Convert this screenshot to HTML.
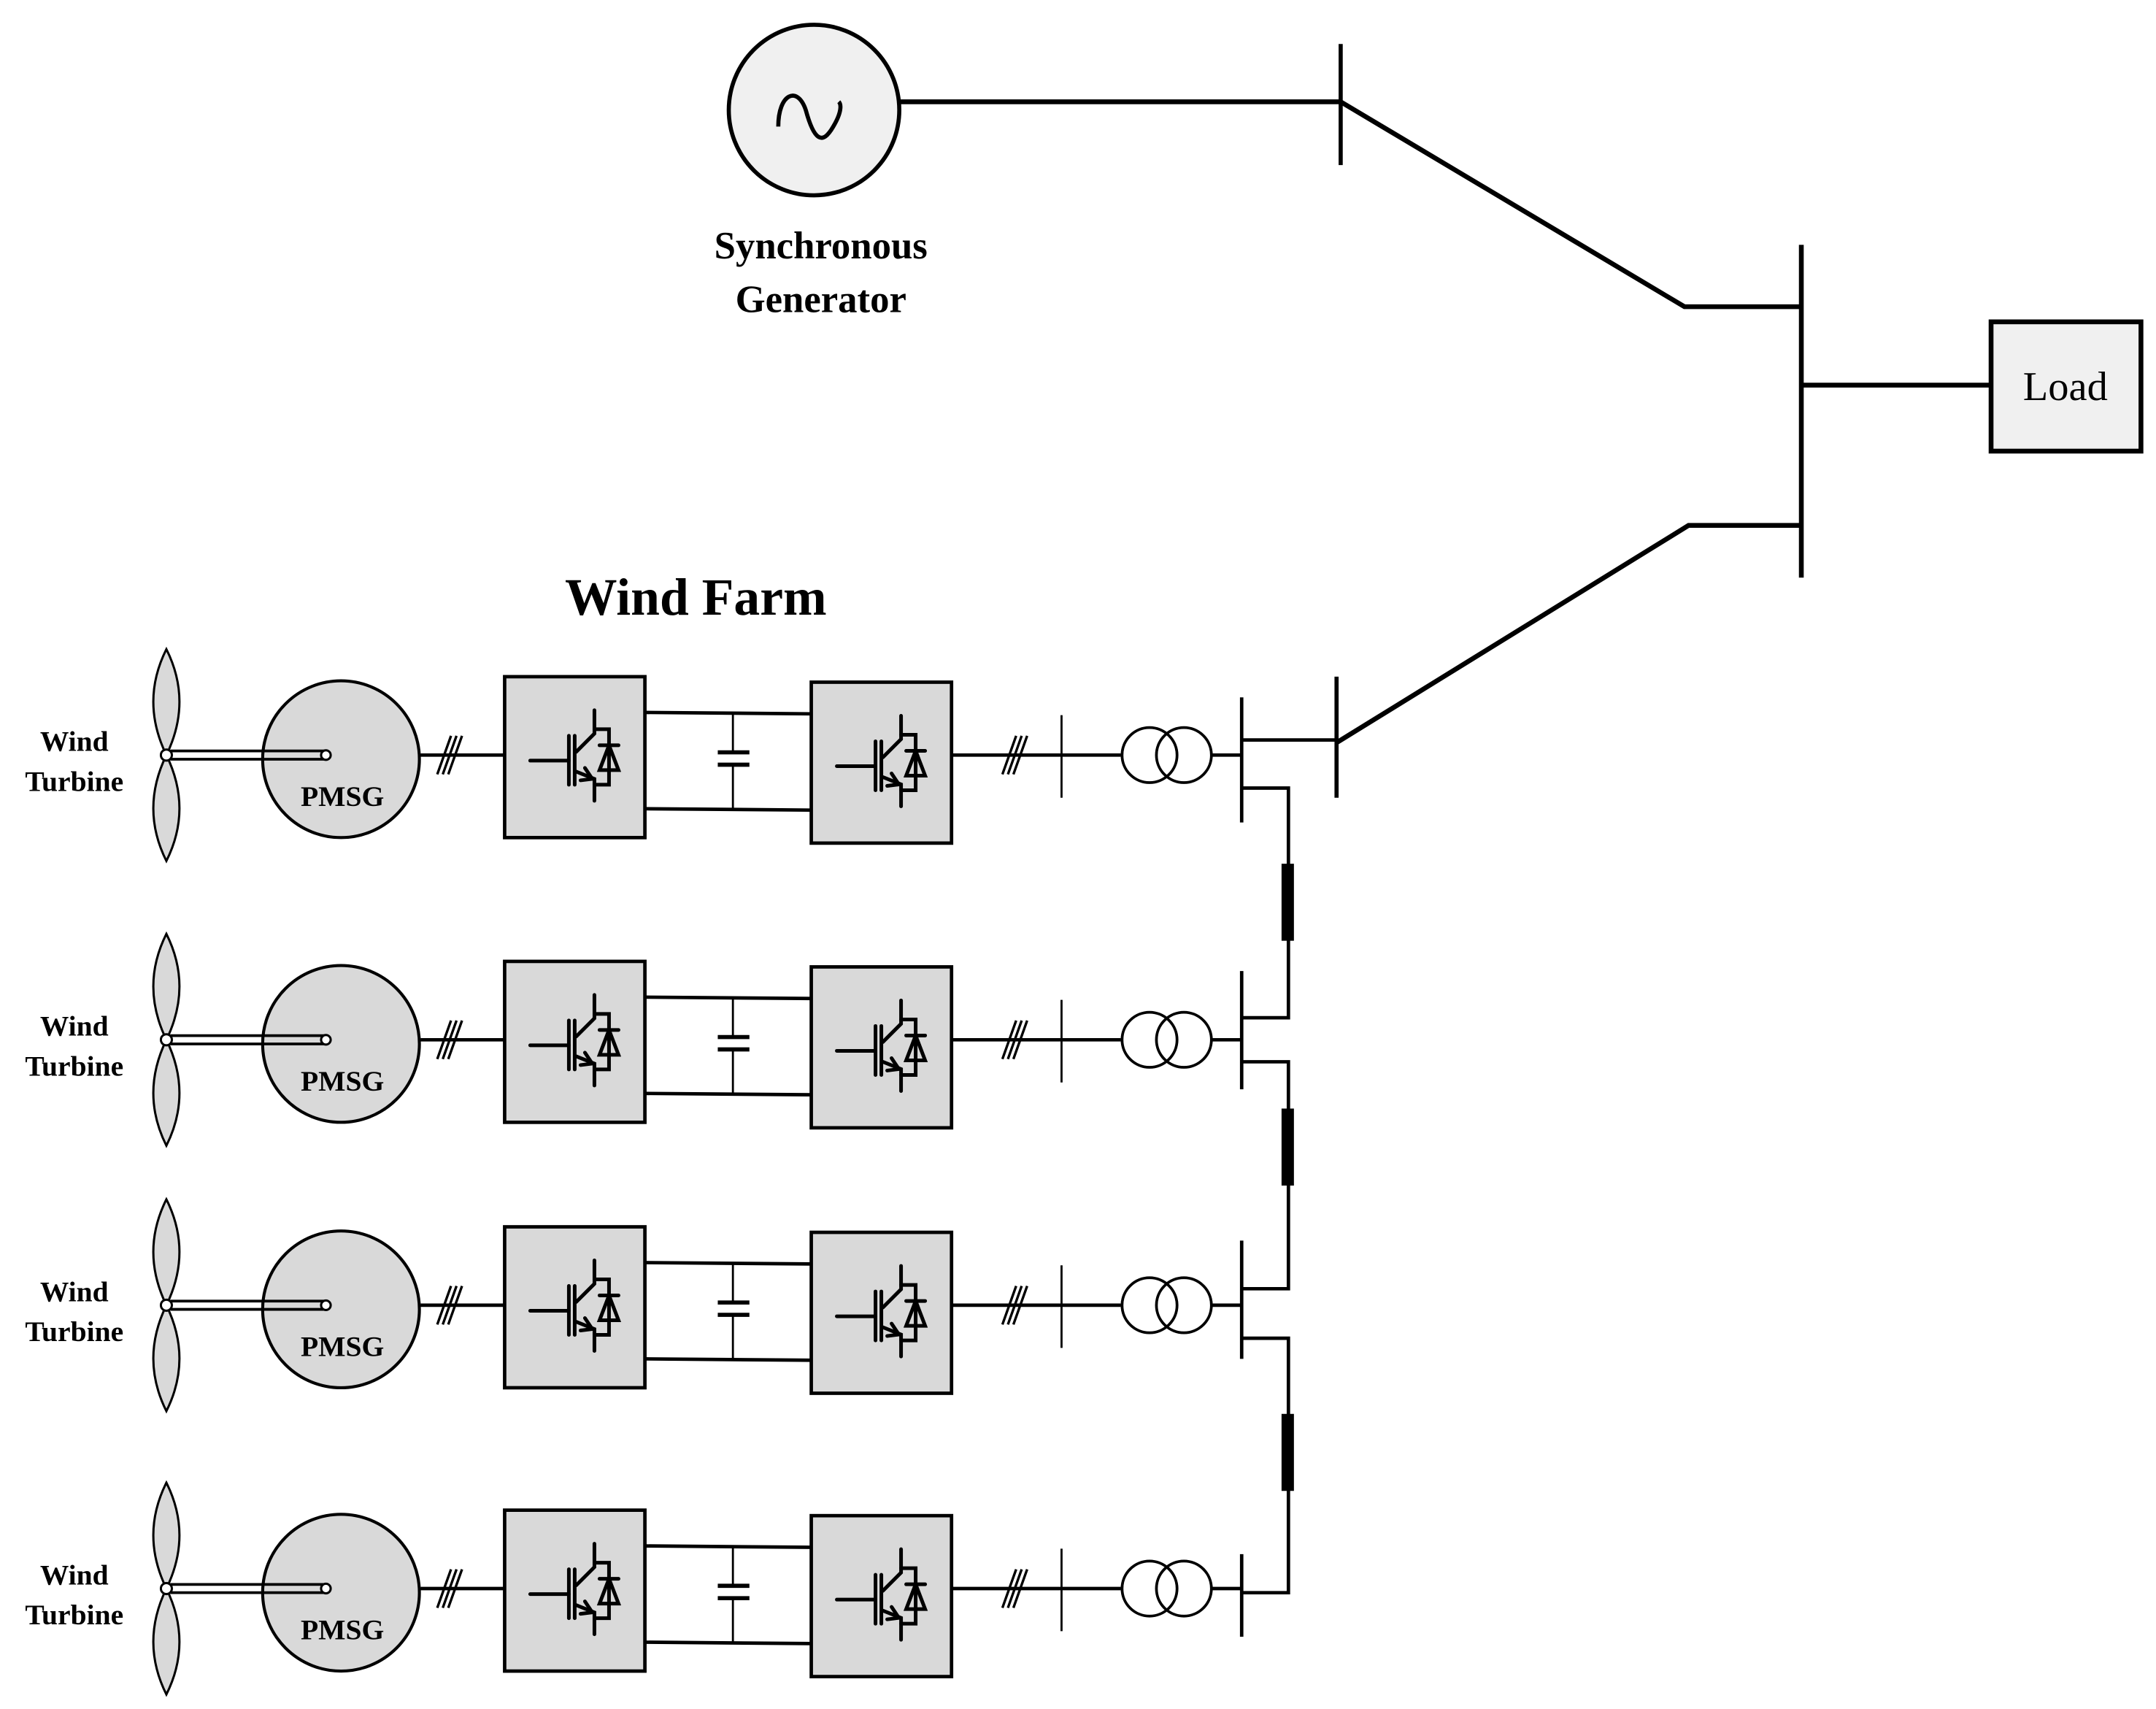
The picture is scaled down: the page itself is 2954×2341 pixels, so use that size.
<!DOCTYPE html>
<html><head><meta charset="utf-8"><style>
html,body{margin:0;padding:0;background:#fff;}
svg{display:block;}
text{font-family:"Liberation Serif",serif;}
</style></head><body>
<svg width="2954" height="2341" viewBox="0 0 2954 2341" xmlns="http://www.w3.org/2000/svg">
<defs>
<g id="igbt" stroke="#000" stroke-width="5" fill="none" stroke-linecap="round">
 <line x1="35" y1="115" x2="88" y2="115"/>
 <line x1="88" y1="81" x2="88" y2="148"/>
 <line x1="96" y1="81" x2="96" y2="148"/>
 <polyline points="98,103 123,78 123,46"/>
 <polyline points="98,130 123,140 123,170"/>
 <polyline points="110,125 120,140 104,142"/>
 <polyline points="123,72 143,72 143,148 123,148"/>
 <polygon points="130,128 156,128 143,94"/>
 <line x1="130" y1="94" x2="156" y2="94"/>
</g>
<g id="row">
 <path d="M121,472 Q140,510 121,549 Q102,510 121,472Z" fill="#d9d9d9" stroke="#000" stroke-width="1.6"/>
 <path d="M121,549 Q140,588 121,626 Q102,588 121,549Z" fill="#d9d9d9" stroke="#000" stroke-width="1.6"/>
 <circle cx="248" cy="552" r="57" fill="#d9d9d9" stroke="#000" stroke-width="2.2"/>
 <line x1="124" y1="546" x2="237" y2="546" stroke="#000" stroke-width="2"/>
 <line x1="124" y1="552" x2="237" y2="552" stroke="#000" stroke-width="2"/>
 <circle cx="121" cy="549" r="4" fill="#fff" stroke="#000" stroke-width="1.6"/>
 <circle cx="237" cy="549" r="3.5" fill="#fff" stroke="#000" stroke-width="1.6"/>
 <text x="249" y="586" font-size="21" font-weight="bold" text-anchor="middle">PMSG</text>
 <text x="54" y="546" font-size="21" font-weight="bold" text-anchor="middle">Wind</text>
 <text x="54" y="575" font-size="21" font-weight="bold" text-anchor="middle">Turbine</text>
 <line x1="306" y1="549" x2="367" y2="549" stroke="#000" stroke-width="2.5"/>
 <line x1="318" y1="563" x2="328" y2="535" stroke="#000" stroke-width="1.8"/>
 <line x1="322" y1="563" x2="332" y2="535" stroke="#000" stroke-width="1.8"/>
 <line x1="326" y1="563" x2="336" y2="535" stroke="#000" stroke-width="1.8"/>
 <rect x="367" y="492" width="102" height="117" fill="#d9d9d9" stroke="#000" stroke-width="2.5"/>
 <g transform="translate(367,492) scale(0.5308)"><use href="#igbt"/></g>
 <rect x="590" y="496" width="102" height="117" fill="#d9d9d9" stroke="#000" stroke-width="2.5"/>
 <g transform="translate(590,496) scale(0.5308)"><use href="#igbt"/></g>
 <line x1="469" y1="518" x2="590" y2="519" stroke="#000" stroke-width="2.5"/>
 <line x1="469" y1="588" x2="590" y2="589" stroke="#000" stroke-width="2.5"/>
 <line x1="533" y1="518" x2="533" y2="547" stroke="#000" stroke-width="1.5"/>
 <line x1="533" y1="556" x2="533" y2="588" stroke="#000" stroke-width="1.5"/>
 <line x1="522" y1="547" x2="545" y2="547" stroke="#000" stroke-width="3"/>
 <line x1="522" y1="556" x2="545" y2="556" stroke="#000" stroke-width="3"/>
 <line x1="692" y1="549" x2="815" y2="549" stroke="#000" stroke-width="2.5"/>
 <line x1="729" y1="563" x2="739" y2="535" stroke="#000" stroke-width="1.8"/>
 <line x1="733" y1="563" x2="743" y2="535" stroke="#000" stroke-width="1.8"/>
 <line x1="737" y1="563" x2="747" y2="535" stroke="#000" stroke-width="1.8"/>
 <line x1="772" y1="520" x2="772" y2="580" stroke="#000" stroke-width="1.5"/>
 <circle cx="836" cy="549" r="20" fill="none" stroke="#000" stroke-width="2"/>
 <circle cx="861" cy="549" r="20" fill="none" stroke="#000" stroke-width="2"/>
 <line x1="881" y1="549" x2="903" y2="549" stroke="#000" stroke-width="2.5"/>
</g>
</defs>
<g transform="scale(1.884)">
 <circle cx="592" cy="80" r="62" fill="#f0f0f0" stroke="#000" stroke-width="3"/>
 <path d="M566,92 C566,68 580,62 586,80 C592,102 598,106 606,92 C612,82 612,76 610,74" fill="none" stroke="#000" stroke-width="3"/>
 <text x="597" y="188" font-size="28" font-weight="bold" text-anchor="middle">Synchronous</text>
 <text x="597" y="227" font-size="28" font-weight="bold" text-anchor="middle">Generator</text>
 <line x1="655" y1="74" x2="975" y2="74" stroke="#000" stroke-width="3.5"/>
 <line x1="975" y1="32" x2="975" y2="120" stroke="#000" stroke-width="3"/>
 <polyline points="975,74 1225,223 1310,223" fill="none" stroke="#000" stroke-width="3.5"/>
 <line x1="1310" y1="178" x2="1310" y2="420" stroke="#000" stroke-width="3.5"/>
 <line x1="1310" y1="280" x2="1448" y2="280" stroke="#000" stroke-width="3.5"/>
 <rect x="1448" y="234" width="109" height="94" fill="#f0f0f0" stroke="#000" stroke-width="3.5"/>
 <text x="1502" y="291" font-size="30" text-anchor="middle">Load</text>
 <polyline points="1310,382 1228,382 972,540" fill="none" stroke="#000" stroke-width="3.5"/>
 <line x1="972" y1="492" x2="972" y2="580" stroke="#000" stroke-width="3"/>
 <text x="506" y="447" font-size="38" font-weight="bold" text-anchor="middle">Wind Farm</text>

 <use href="#row"/>
 <use href="#row" transform="translate(0,207)"/>
 <use href="#row" transform="translate(0,400)"/>
 <use href="#row" transform="translate(0,606)"/>

 <g stroke="#000" stroke-width="2.5" fill="none">
  <line x1="903" y1="507" x2="903" y2="598"/>
  <line x1="903" y1="538" x2="972" y2="538"/>
  <polyline points="903,573 937,573 937,740 903,740"/>
  <line x1="903" y1="706" x2="903" y2="792"/>
  <polyline points="903,772 937,772 937,937 903,937"/>
  <line x1="903" y1="902" x2="903" y2="988"/>
  <polyline points="903,973 937,973 937,1158 903,1158"/>
  <line x1="903" y1="1130" x2="903" y2="1190"/>
 </g>
 <g fill="#000">
  <rect x="932" y="628" width="9" height="56"/>
  <rect x="932" y="806" width="9" height="56"/>
  <rect x="932" y="1028" width="9" height="56"/>
 </g>
</g>
</svg>
</body></html>
